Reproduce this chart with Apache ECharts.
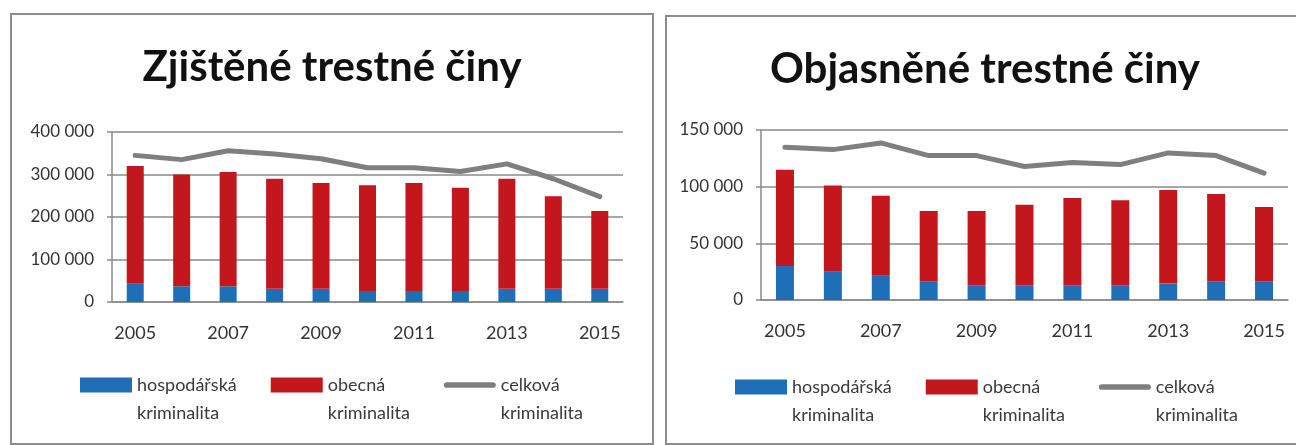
<!DOCTYPE html>
<html>
<head>
<meta charset="utf-8">
<script src="https://cdn.jsdelivr.net/npm/echarts@6/dist/echarts.min.js"></script>
<style>
  html, body { margin: 0; padding: 0; background: #fff; overflow: hidden; width: 1296px; height: 445px; }
  .box { position: absolute; box-sizing: border-box; border: 2px solid #8c8c8c; background: #fff; }
  #left { left: 10px; top: 13px; width: 644px; height: 432px; }
  #right { left: 665px; top: 15px; width: 640px; height: 430px; }
</style>
</head>
<body>
<div id="left" class="box"></div>
<div id="right" class="box"></div>
<script>
  // roky na ose x
  var years = ['2005', '2006', '2007', '2008', '2009', '2010', '2011', '2012', '2013', '2014', '2015'];

  // nazvy serii (legenda je na dva radky)
  var names = ['hospodářská\nkriminalita', 'obecná\nkriminalita', 'celková\nkriminalita'];

  // zjistene trestne ciny
  var zjHosp = [43000, 37000, 37000, 31000, 31000, 26000, 26000, 26000, 31000, 31000, 31000];
  var zjObecna = [277000, 263000, 269000, 259000, 249000, 249000, 254000, 243000, 259000, 218000, 183000];
  var zjCelkova = [345000, 335000, 356000, 348000, 337000, 316000, 316000, 307000, 325000, 290000, 248000];

  // objasnene trestne ciny
  var obHosp = [30000, 25500, 21500, 16000, 12500, 12500, 12500, 12500, 14500, 16000, 16000];
  var obObecna = [85000, 75500, 70500, 62500, 66000, 71500, 77500, 75500, 82500, 77500, 66000];
  var obCelkova = [134800, 132700, 138600, 127400, 127400, 117800, 121300, 119500, 129800, 127400, 112000];

  var font = 'Lato, "Open Sans", sans-serif';
  var gridColor = '#8a8a8a';

  // 400000 -> "400 000"
  function fmt(v) {
    return String(v).replace(/\B(?=(\d{3})+(?!\d))/g, ' ');
  }

  function makeOption(title, hosp, obecna, celkova, max, interval, grid, barWidth) {
    return {
      animation: false,
      title: {
        text: title,
        left: 'center',
        top: 26,
        textStyle: { fontFamily: font, fontSize: 42, fontWeight: 'bold', color: '#111' }
      },
      legend: {
        // prazdny prvni radek -> ikona je u prvniho radku textu
        data: [
          { name: names[0], icon: 'rect' },
          { name: names[1], icon: 'rect' },
          { name: names[2], icon: 'path://M3,0L52,0A3,3,0,0,1,52,6L3,6A3,3,0,0,1,3,0Z' }
        ],
        formatter: function (n) { return '\n' + n; },
        left: 68,
        top: 328,
        padding: 0,
        itemWidth: 52,
        itemHeight: 15,
        itemGap: 34,
        textStyle: { fontFamily: font, fontSize: 18, color: '#3a3a3a', lineHeight: 28 }
      },
      grid: grid,
      xAxis: {
        type: 'category',
        data: years,
        axisLine: { lineStyle: { color: gridColor, width: 1.5 } },
        axisTick: { interval: 0, length: 7, lineStyle: { color: gridColor, width: 1.5 } },
        axisLabel: { interval: 1, margin: 22, fontFamily: font, fontSize: 18, color: '#333' }
      },
      yAxis: {
        type: 'value',
        min: 0,
        max: max,
        interval: interval,
        axisLine: { show: true, lineStyle: { color: gridColor, width: 1.5 } },
        axisTick: { show: true, length: 5, lineStyle: { color: gridColor, width: 1.5 } },
        splitLine: { lineStyle: { color: gridColor, width: 1.5 } },
        axisLabel: { margin: 18, fontFamily: font, fontSize: 17, color: '#333', formatter: fmt }
      },
      series: [{
        name: names[0],
        type: 'bar',
        stack: 'tc',
        barWidth: barWidth,
        itemStyle: { color: '#1f6fb6' },
        data: hosp
      }, {
        name: names[1],
        type: 'bar',
        stack: 'tc',
        barWidth: barWidth,
        itemStyle: { color: '#c3161d' },
        data: obecna
      }, {
        name: names[2],
        type: 'line',
        symbol: 'none',
        lineStyle: { color: '#7f7f7f', width: 5, cap: 'round', join: 'round' },
        itemStyle: { color: '#7f7f7f' },
        data: celkova
      }]
    };
  }

  var chartLeft = echarts.init(document.getElementById('left'));
  chartLeft.setOption(makeOption('Zjištěné trestné činy', zjHosp, zjObecna, zjCelkova,
    400000, 100000, { left: 100, top: 117, width: 511, height: 170 }, 17));

  var chartRight = echarts.init(document.getElementById('right'));
  chartRight.setOption(makeOption('Objasněné trestné činy', obHosp, obObecna, obCelkova,
    150000, 50000, { left: 94, top: 113, width: 527, height: 170 }, 18));
</script>
</body>
</html>
